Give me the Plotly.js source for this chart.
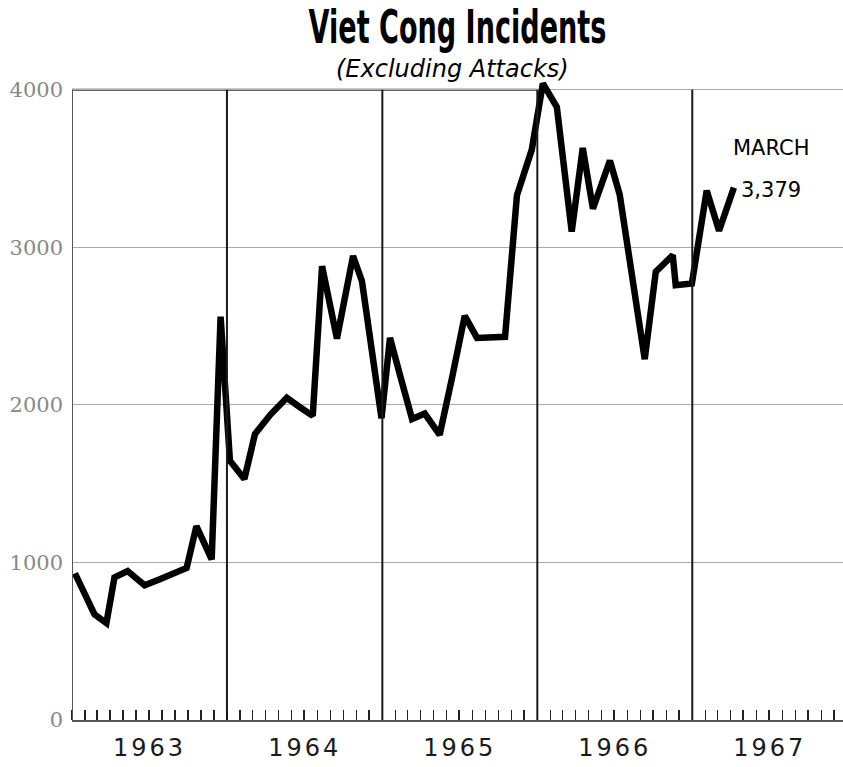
<!DOCTYPE html>
<html>
<head>
<meta charset="utf-8">
<script src="https://cdn.plot.ly/plotly-3.0.1.min.js"></script>
<style>
html,body{margin:0;padding:0;background:#fff;}
#chart{width:843px;height:767px;}
.xtick text{letter-spacing:3px;}
</style>
</head>
<body>
<div id="chart"></div>
<script>
// Monthly Viet Cong incidents, Jan 1963 - Mar 1967 (dates = where each month is plotted in the original)
const dates = [
  '1963-01-08','1963-02-23','1963-03-23','1963-04-11','1963-05-12','1963-06-21',
  '1963-07-24','1963-08-26','1963-09-28','1963-10-21','1963-11-26','1963-12-17',
  '1964-01-08','1964-02-11','1964-03-07','1964-04-13','1964-05-21','1964-06-21',
  '1964-07-21','1964-08-12','1964-09-16','1964-10-24','1964-11-14','1964-12-30',
  '1965-01-19','1965-02-14','1965-03-12','1965-04-11','1965-05-16','1965-06-14',
  '1965-07-14','1965-08-12','1965-09-14','1965-10-17','1965-11-14','1965-12-19',
  '1966-01-14','1966-02-16','1966-03-23','1966-04-18','1966-05-12','1966-06-21',
  '1966-07-14','1966-09-11','1966-10-07','1966-11-16','1966-11-23','1966-12-31',
  '1967-02-04','1967-03-05','1967-04-09'
];
const incidents = [
  930, 670, 615, 905, 945, 855, 890, 930, 965, 1230, 1020, 2560,
  1645, 1530, 1815, 1940, 2045, 1985, 1930, 2880, 2420, 2945, 2785, 1915,
  2425, 2165, 1910, 1945, 1810, 2170, 2565, 2425, 2428, 2432, 3330, 3620,
  4040, 3890, 3100, 3630, 3245, 3550, 3335, 2290, 2845, 2950, 2760, 2770,
  3360, 3105, 3379
];
const yearStarts = ['1963-01-01','1964-01-01','1965-01-01','1966-01-01','1967-01-01'];
const yTickVals = [0, 1000, 2000, 3000, 4000];
const yTickText = ['0', '1000', '2000', '3000', '4000'];
const titleText = 'Viet Cong Incidents';
const subtitleText = '(Excluding Attacks)';
const lastLabelMonth = 'MARCH';
const lastLabelValue = '3,379';

const trace = {
  x: dates,
  y: incidents,
  type: 'scatter',
  mode: 'lines',
  line: {color: '#000', width: 6.5},
  hoverinfo: 'x+y'
};

const shapes = yearStarts.map((d, i) => ({
  type: 'line', xref: 'x', yref: 'y',
  x0: d, x1: d, y0: 0, y1: 4000,
  line: {color: i === 0 ? '#555' : '#1a1a1a', width: 2},
  layer: 'above'
}));
shapes.push({
  type: 'line', xref: 'x', yref: 'y',
  x0: yearStarts[0], x1: yearStarts[3], y0: 4000, y1: 4000,
  line: {color: '#333', width: 2}, layer: 'below'
});

const last = dates.length - 1;
const layout = {
  width: 843, height: 767,
  margin: {l: 72, r: 0, t: 74, b: 47},
  paper_bgcolor: '#fff', plot_bgcolor: '#fff',
  showlegend: false,
  title: {
    text: titleText,
    x: 0.5, xref: 'paper', xanchor: 'center',
    y: 0.986, yref: 'container', yanchor: 'top',
    font: {family: '"DejaVu Sans Condensed", "DejaVu Sans", sans-serif', size: 46, weight: 'bold', color: '#000'}
  },
  xaxis: {
    type: 'date',
    range: ['1963-01-01', '1967-12-22'],
    dtick: 'M12', tick0: '1963-01-01',
    tickformat: '%Y', ticklabelmode: 'period',
    ticks: 'inside', ticklen: 10, tickwidth: 1.5, tickcolor: '#222',
    minor: {dtick: 'M1', tick0: '1963-01-01', ticks: 'inside', ticklen: 10, tickwidth: 1.5, tickcolor: '#222', showgrid: false},
    showgrid: false, zeroline: false,
    showline: true, linecolor: '#555', linewidth: 1.5,
    tickfont: {family: '"DejaVu Sans", sans-serif', size: 24, color: '#1a1a1a'},
    ticklabelstandoff: 6,
    fixedrange: true
  },
  yaxis: {
    range: [0, 4100],
    tickmode: 'array', tickvals: yTickVals, ticktext: yTickText,
    ticks: '', showgrid: true, gridcolor: '#aaa', gridwidth: 1,
    zeroline: false, showline: false,
    tickfont: {family: '"DejaVu Serif", serif', size: 21, color: '#888'},
    ticklabelstandoff: 8,
    fixedrange: true
  },
  shapes: shapes,
  annotations: [
    {
      text: subtitleText, xref: 'paper', yref: 'paper', x: 0.5, y: 1,
      xanchor: 'center', yanchor: 'middle', xshift: -5, yshift: 5, showarrow: false,
      font: {family: '"DejaVu Sans", sans-serif', size: 24, style: 'italic', color: '#000'}
    },
    {
      text: lastLabelMonth, xref: 'x', yref: 'y', x: dates[last], y: incidents[last],
      xanchor: 'left', yanchor: 'middle', xshift: -3, yshift: 40, showarrow: false,
      font: {family: '"DejaVu Sans", sans-serif', size: 21, color: '#000'}
    },
    {
      text: lastLabelValue, xref: 'x', yref: 'y', x: dates[last], y: incidents[last],
      xanchor: 'left', yanchor: 'middle', xshift: 5, yshift: -2, showarrow: false,
      font: {family: '"DejaVu Sans", sans-serif', size: 21, color: '#000'}
    }
  ]
};

Plotly.newPlot('chart', [trace], layout, {displayModeBar: false, staticPlot: true}).then(function (gd) {
  // The original title is set in a very condensed headline face: squeeze it horizontally.
  const t = gd.querySelector('.gtitle');
  if (t) {
    const cx = parseFloat(t.getAttribute('x')) || 0;
    const targetWidth = 298;
    const w = t.getBBox().width;
    const s = w > 0 ? Math.min(1, targetWidth / w) : 1;
    t.setAttribute('transform', 'translate(' + cx + ',0) scale(' + s + ',1) translate(' + (-cx) + ',0)');
  }
});
</script>
</body>
</html>
